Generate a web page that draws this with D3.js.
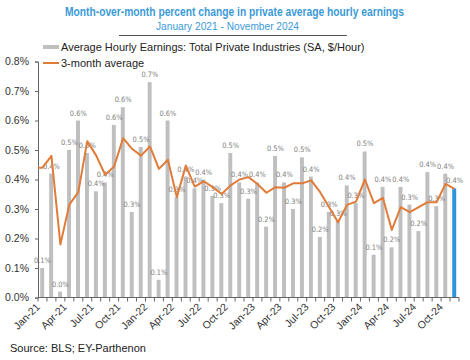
<!DOCTYPE html>
<html>
<head>
<meta charset="utf-8">
<script src="https://cdn.jsdelivr.net/npm/d3@7"></script>
<style>
html,body{margin:0;padding:0;background:#fff;}
svg{display:block;font-family:"Liberation Sans",Arial,sans-serif;}
</style>
</head>
<body>
<svg id="chart" width="470" height="360"></svg>
<script>
const months = ["Jan-21","Feb-21","Mar-21","Apr-21","May-21","Jun-21","Jul-21","Aug-21","Sep-21","Oct-21","Nov-21","Dec-21",
"Jan-22","Feb-22","Mar-22","Apr-22","May-22","Jun-22","Jul-22","Aug-22","Sep-22","Oct-22","Nov-22","Dec-22",
"Jan-23","Feb-23","Mar-23","Apr-23","May-23","Jun-23","Jul-23","Aug-23","Sep-23","Oct-23","Nov-23","Dec-23",
"Jan-24","Feb-24","Mar-24","Apr-24","May-24","Jun-24","Jul-24","Aug-24","Sep-24","Oct-24","Nov-24"];

const earnings = [0.10,0.42,0.02,0.50,0.60,0.49,0.36,0.39,0.585,0.645,0.29,0.51,
0.73,0.06,0.60,0.34,0.41,0.37,0.40,0.345,0.32,0.49,0.39,0.335,
0.39,0.24,0.48,0.39,0.30,0.475,0.41,0.205,0.29,0.26,0.38,0.32,
0.495,0.145,0.375,0.17,0.375,0.315,0.225,0.425,0.31,0.42,0.37];

const avg3m = [0.44,0.48,0.18,0.315,0.357,0.53,0.481,0.416,0.444,0.54,0.504,0.481,
0.512,0.436,0.467,0.34,0.447,0.376,0.394,0.374,0.351,0.38,0.40,0.408,
0.385,0.355,0.374,0.372,0.387,0.387,0.397,0.357,0.306,0.255,0.314,0.325,
0.40,0.32,0.338,0.229,0.306,0.289,0.306,0.323,0.323,0.385,0.368];

const xTickLabels = ["Jan-21","Apr-21","Jul-21","Oct-21","Jan-22","Apr-22","Jul-22","Oct-22",
"Jan-23","Apr-23","Jul-23","Oct-23","Jan-24","Apr-24","Jul-24","Oct-24"];
const yTicks = [0,0.1,0.2,0.3,0.4,0.5,0.6,0.7,0.8];
const highlight = "Nov-24";

const titleText = "Month-over-month percent change in private average hourly earnings";
const subtitleText = "January 2021 - November 2024";
const legendBars = "Average Hourly Earnings: Total Private Industries (SA, $/Hour)";
const legendLine = "3-month average";
const sourceText = "Source: BLS; EY-Parthenon";

const svg = d3.select("#chart");
const W = 470, H = 360;
const m = {left:38, right:11, top:61.5, bottom:62.5};
const x = d3.scaleBand().domain(months).range([m.left, W - m.right]).paddingInner(0).paddingOuter(0);
const y = d3.scaleLinear().domain([0,0.8]).range([H - m.bottom, m.top]);
const pct = v => d3.format(".1f")(v) + "%";

// title
const blue = "#3b9ad8";
svg.append("text").attr("x",234.5).attr("y",16).attr("text-anchor","middle")
  .attr("font-size",12).attr("font-weight","bold").attr("fill",blue)
  .attr("textLength",339).attr("lengthAdjust","spacingAndGlyphs").text(titleText);
svg.append("text").attr("x",227.5).attr("y",30).attr("text-anchor","middle")
  .attr("font-size",11).attr("fill",blue)
  .attr("textLength",143).attr("lengthAdjust","spacingAndGlyphs").text(subtitleText);
svg.append("line").attr("x1",119).attr("x2",347).attr("y1",35.5).attr("y2",35.5)
  .attr("stroke","#555").attr("stroke-width",1);

// legend
svg.append("rect").attr("x",43).attr("y",45).attr("width",16).attr("height",4).attr("fill","#bfbfbf");
svg.append("text").attr("x",61).attr("y",51).attr("font-size",11).attr("fill","#222").text(legendBars);
svg.append("line").attr("x1",43).attr("x2",59).attr("y1",63).attr("y2",63).attr("stroke","#e07b39").attr("stroke-width",2);
svg.append("text").attr("x",61).attr("y",66.5).attr("font-size",11).attr("fill","#222").text(legendLine);

// y axis
const yAxis = d3.axisLeft(y).tickValues(yTicks).tickFormat(pct).tickSize(3).tickPadding(6);
const gy = svg.append("g").attr("transform",`translate(${m.left},0)`).call(yAxis);
gy.select(".domain").attr("stroke","#666");
gy.selectAll(".tick line").attr("stroke","#666");
gy.selectAll(".tick text").attr("font-size",10.5).attr("fill","#333").attr("font-family","Liberation Sans,Arial,sans-serif");

// bars
const barW = x.bandwidth()*0.44;
const data = months.map((mth,i)=>({m:mth, v:earnings[i], a:avg3m[i]}));
svg.append("g").selectAll("rect").data(data).join("rect")
  .attr("x", d => x(d.m) + (x.bandwidth()-barW)/2 - 0.3)
  .attr("width", barW)
  .attr("y", d => y(d.v))
  .attr("height", d => y(0) - y(d.v))
  .attr("fill", d => d.m === highlight ? "#2e94e0" : "#bfbfbf");

// data labels
svg.append("g").selectAll("text").data(data).join("text")
  .attr("x", d => x(d.m) + x.bandwidth()/2)
  .attr("y", d => y(d.v) - 5)
  .attr("text-anchor","middle")
  .attr("font-size",7.4)
  .attr("font-family","'Liberation Sans Narrow','Arial Narrow','DejaVu Sans Condensed',sans-serif")
  .attr("fill","#808080")
  .text(d => pct(d.v));

// x axis
const gx = svg.append("g").attr("transform",`translate(0,${y(0)})`);
gx.append("line").attr("x1",m.left).attr("x2",W-m.right).attr("y1",0).attr("y2",0).attr("stroke","#666");
const bounds = months.map(mth => x(mth)).concat([x(months[months.length-1]) + x.bandwidth()]);
gx.selectAll("line.tk").data(bounds).join("line").attr("class","tk")
  .attr("x1",d=>d).attr("x2",d=>d).attr("y1",0).attr("y2",4).attr("stroke","#666");
gx.selectAll("text").data(xTickLabels).join("text")
  .attr("transform", d => `translate(${x(d)+x.bandwidth()/2-4.5},${7.5})rotate(-45)`)
  .attr("text-anchor","end").attr("dy","0.35em")
  .attr("font-size",10.5).attr("fill","#333").text(d=>d);

// 3-month average line
const linePts = [[m.left, y(avg3m[0])]].concat(data.map(d => [x(d.m)+x.bandwidth()/2, y(d.a)]));
svg.append("path").attr("d", d3.line()(linePts))
  .attr("fill","none").attr("stroke","#e07b39").attr("stroke-width",2).attr("stroke-linejoin","round");

// source
svg.append("text").attr("x",10).attr("y",352).attr("font-size",11).attr("fill","#222").text(sourceText);
</script>
</body>
</html>
